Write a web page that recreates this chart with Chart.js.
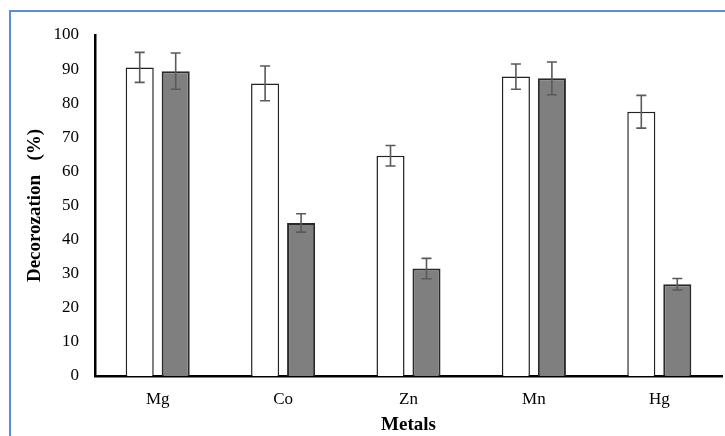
<!DOCTYPE html>
<html>
<head>
<meta charset="utf-8">
<script src="https://cdn.jsdelivr.net/npm/chart.js@4"></script>
<style>
  html, body { margin: 0; padding: 0; background: #ffffff; }
  #wrap { width: 725px; height: 436px; position: relative; }
</style>
</head>
<body>
<div id="wrap"><canvas id="c" width="725" height="436"></canvas></div>
<script>
const categories = ["Mg", "Co", "Zn", "Mn", "Hg"];
const seriesA = [90.5, 85.8, 64.6, 87.8, 77.5];
const errorsA = [4.4, 5.1, 3.0, 3.7, 4.8];
const seriesB = [89.4, 44.9, 31.5, 87.3, 26.9];
const errorsB = [5.3, 2.7, 3.0, 4.8, 1.7];
const yTicks = [0, 10, 20, 30, 40, 50, 60, 70, 80, 90, 100];

const serif = "'Liberation Serif', 'Times New Roman', serif";

const framePlugin = {
  id: 'frame',
  beforeDraw(chart) {
    const ctx = chart.ctx;
    ctx.save();
    ctx.fillStyle = '#ffffff';
    ctx.fillRect(0, 0, chart.width, chart.height);
    ctx.strokeStyle = '#5b8ed6';
    ctx.lineWidth = 2;
    ctx.strokeRect(10, 11, 800, 600);
    ctx.restore();
  }
};

const errorBarPlugin = {
  id: 'errorBars',
  afterDatasetsDraw(chart) {
    const ctx = chart.ctx;
    const yScale = chart.scales.y;
    ctx.save();
    ctx.strokeStyle = '#5a5a5a';
    ctx.lineWidth = 1.6;
    chart.data.datasets.forEach((ds, di) => {
      const meta = chart.getDatasetMeta(di);
      meta.data.forEach((bar, i) => {
        const v = ds.data[i];
        const e = ds.errors[i];
        const x = bar.x;
        const yt = yScale.getPixelForValue(v + e);
        const yb = yScale.getPixelForValue(v - e);
        const cap = 5;
        ctx.beginPath();
        ctx.moveTo(x, yt); ctx.lineTo(x, yb);
        ctx.moveTo(x - cap, yt); ctx.lineTo(x + cap, yt);
        ctx.moveTo(x - cap, yb); ctx.lineTo(x + cap, yb);
        ctx.stroke();
      });
    });
    ctx.restore();
  }
};

new Chart(document.getElementById('c'), {
  type: 'bar',
  data: {
    labels: categories,
    datasets: [
      {
        label: 'A',
        data: seriesA,
        errors: errorsA,
        backgroundColor: '#ffffff',
        borderColor: '#222222',
        borderWidth: 1.5,
        categoryPercentage: 0.574,
        barPercentage: 0.78
      },
      {
        label: 'B',
        data: seriesB,
        errors: errorsB,
        backgroundColor: '#7f7f7f',
        borderColor: '#2a2a2a',
        borderWidth: 2,
        categoryPercentage: 0.574,
        barPercentage: 0.78
      }
    ]
  },
  options: {
    responsive: false,
    animation: false,
    devicePixelRatio: 1,
    layout: { padding: { top: 35, right: 3, left: 0, bottom: 0 } },
    plugins: {
      legend: { display: false },
      tooltip: { enabled: false },
      title: { display: false }
    },
    scales: {
      x: {
        grid: { display: false },
        border: { display: true, color: '#000000', width: 2.5 },
        ticks: { color: '#000000', font: { family: serif, size: 17 }, padding: 5 },
        title: {
          display: true, text: 'Metals', color: '#000000',
          font: { family: serif, size: 19, weight: 'bold' },
          padding: { top: 0, bottom: 0 }
        },
        afterFit(s) { s.height = 60; }
      },
      y: {
        min: 0, max: 100,
        afterBuildTicks(s) { s.ticks = yTicks.map(v => ({ value: v })); },
        grid: { display: false },
        border: { display: true, color: '#000000', width: 2.5 },
        ticks: { color: '#000000', font: { family: serif, size: 17 }, padding: 8 },
        title: {
          display: true, text: 'Decorozation   (%)', color: '#000000',
          font: { family: serif, size: 19, weight: 'bold' },
          padding: { top: 24, bottom: 0 }
        },
        afterFit(s) { s.width = 95; }
      }
    }
  },
  plugins: [framePlugin, errorBarPlugin]
});
</script>
</body>
</html>
